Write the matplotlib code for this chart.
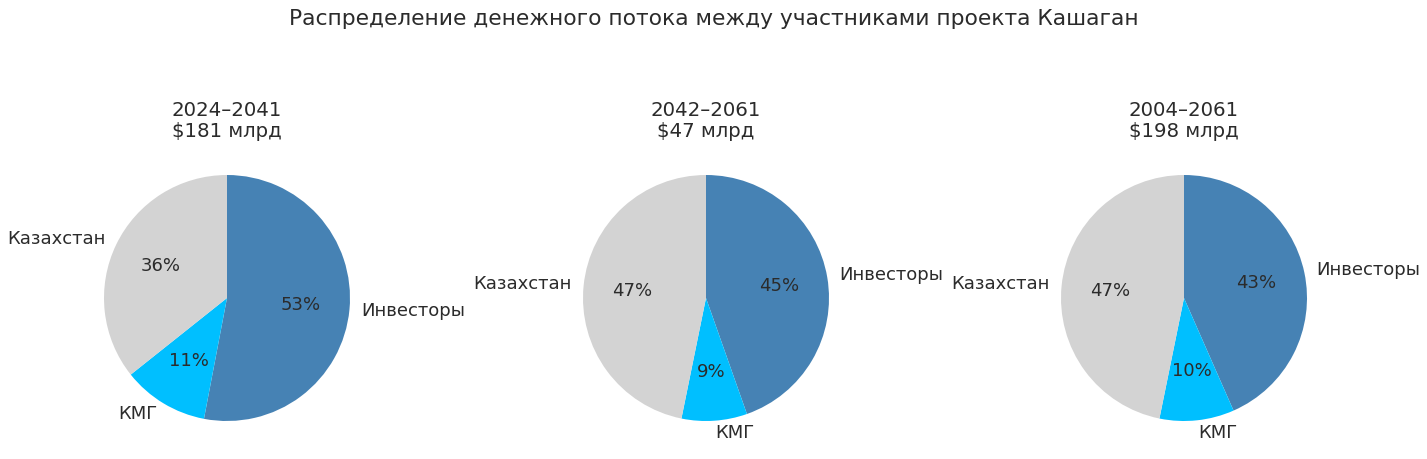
import matplotlib
matplotlib.use("Agg")
import matplotlib.pyplot as plt

labels = ["Инвесторы", "КМГ", "Казахстан"]
colors = ["steelblue", "deepskyblue", "lightgray"]
periods = ["2024–2041", "2042–2061", "2004–2061"]
totals = ["$181 млрд", "$47 млрд", "$198 млрд"]
shares_1 = [53.0, 11.3, 35.7]
shares_2 = [44.6, 8.6, 46.8]
shares_3 = [43.4, 9.8, 46.8]
all_shares = [shares_1, shares_2, shares_3]

plt.rcParams['font.family'] = ['DejaVu Sans']
text_color = '#2b2b2b'

W, H = 1427, 459
fig = plt.figure(figsize=(W / 100, H / 100), dpi=100)
centers_x = [227, 706, 1184]
cy = 298
r = 123
half = r * 1.25
for i, cx in enumerate(centers_x):
    ax = fig.add_axes([(cx - half) / W, (H - cy - half) / H, 2 * half / W, 2 * half / H])
    wedges, texts, autotexts = ax.pie(all_shares[i], labels=labels, colors=colors,
                                      startangle=90, counterclock=False,
                                      autopct='%.0f%%',
                                      textprops={'fontsize': 13, 'color': text_color})
    ax.set_title(f"{periods[i]}\n{totals[i]}", fontsize=14.2, color=text_color,
                 linespacing=1.15, pad=5)

fig.suptitle("Распределение денежного потока между участниками проекта Кашаган",
             fontsize=15.7, color=text_color, y=0.98)
fig.savefig("out.png", dpi=100)
